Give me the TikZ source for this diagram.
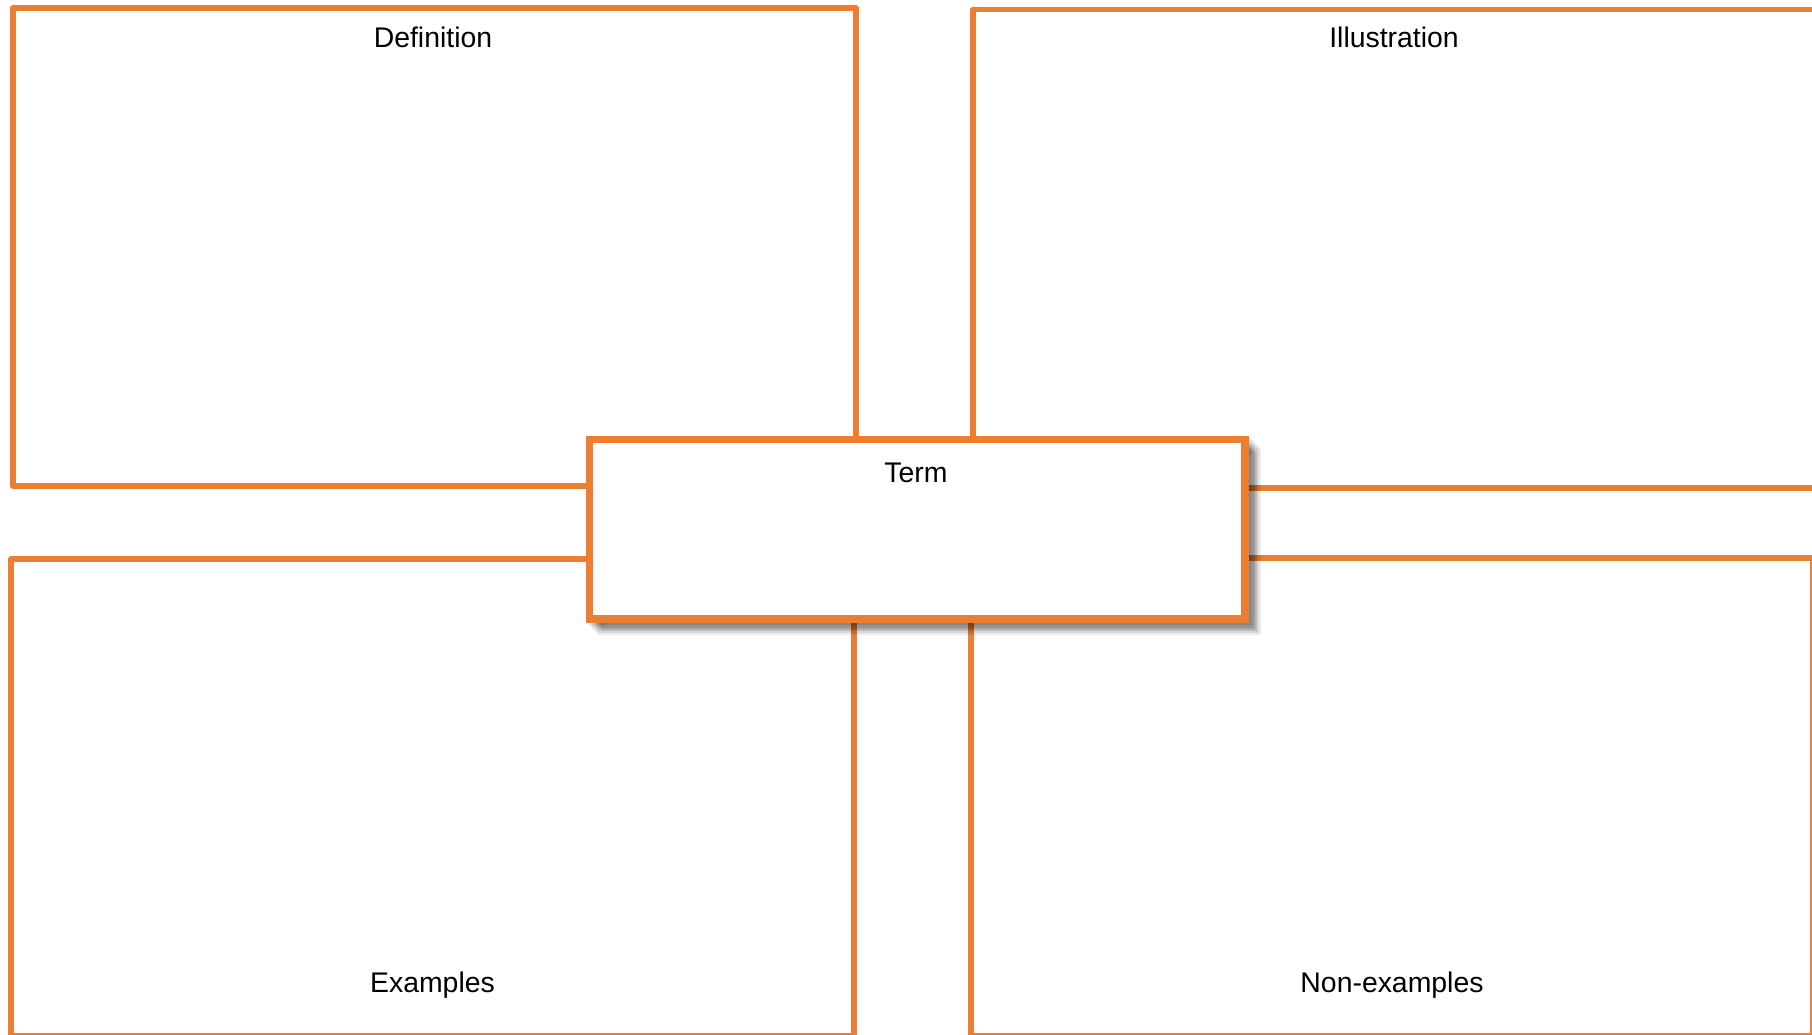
\documentclass[tikz,border=0pt]{standalone}
\usepackage{fontspec}
\setmainfont{Liberation Sans}
\usetikzlibrary{shadows}
\definecolor{frameorange}{HTML}{ED7D31}

\begin{document}
\begin{tikzpicture}[x=1bp, y=-1bp,
    quad/.style={draw=frameorange, line width=5.5bp, line join=round, inner sep=0pt},
    soft/.style={drop shadow={shadow xshift=#1, shadow yshift=-#1,
        fill=black, draw=black, line width=7.5bp, opacity=.08}},
    termbox/.style={quad, line width=7.5bp, line join=miter, fill=white,
        soft=2bp, soft=4bp, soft=6bp, soft=8bp, soft=10bp, soft=12bp},
    heading/.style={font=\fontsize{28.5}{34}\selectfont, anchor=base, inner sep=0pt}]
  \path[use as bounding box, clip] (0,0) rectangle (1812,1034);
  % four quadrants
  \node[quad, minimum width=843bp, minimum height=478bp] (def) at (434.5,247) {};
  \node[quad, minimum width=842bp, minimum height=478.5bp] (ill) at (1394,248.75) {};
  \node[quad, minimum width=843bp, minimum height=477bp] (ex) at (432.5,797.5) {};
  \node[quad, minimum width=842bp, minimum height=478bp] (nonex) at (1392,797) {};
  % centre
  \node[termbox, minimum width=655.5bp, minimum height=179.5bp] (term) at (917.25,529.25) {};
  % labels
  \node[heading] (deflabel) at (433,47) {Definition};
  \node[heading] (illlabel) at (1394,47.5) {Illustration};
  \node[heading] (termlabel) at (916,482) {Term};
  \node[heading] (exlabel) at (432.5,992) {Examples};
  \node[heading] (nonexlabel) at (1392,992) {Non-examples};
\end{tikzpicture}
\end{document}
